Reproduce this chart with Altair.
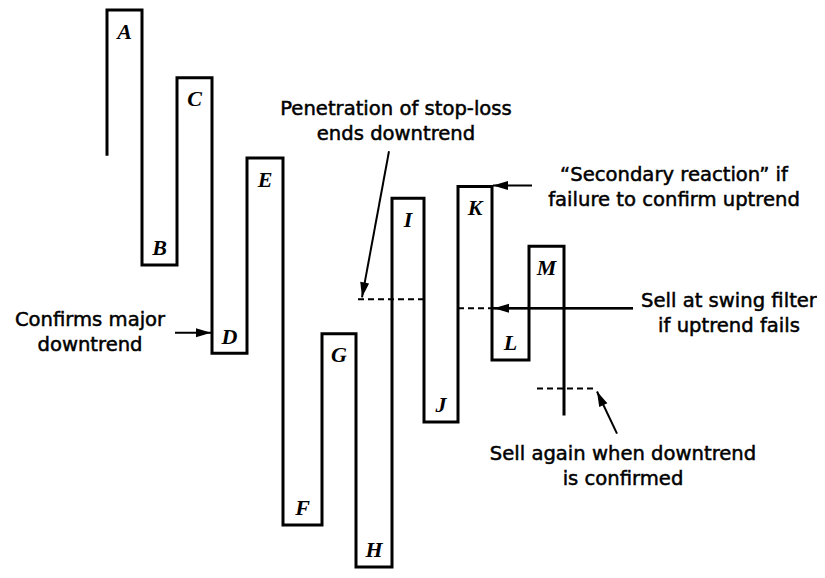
import altair as alt
import pandas as pd
import numpy as np

# ---- swing chart data (time of each reversal stroke, price at each swing) ----
swing_labels = ["A", "B", "C", "D", "E", "F", "G", "H", "I", "J", "K", "L", "M"]
stroke_times = [107, 142, 177, 212, 247, 283, 322, 356, 392, 424, 458, 492, 529, 564]
start_price = 445
swing_prices = [592, 332, 523, 242, 441, 67, 262, 24, 400, 172, 412, 235, 351]
end_price = 180

# ---- reference levels (dashed) ----
level_names = ["stop-loss", "swing filter", "confirmation"]
level_prices = [297, 288, 206]
level_from = [358, 458, 537]
level_to = [424, 492, 597]

# solid filter line
filter_solid_from = 492
filter_solid_to = 633

# ---- arrows: start (time, price) -> tip (time, price) ----
arrow_t0 = [175, 532, 633, 389, 617]
arrow_p0 = [263, 413, 288, 448, 160]
arrow_t1 = [211, 493, 494, 362, 597]
arrow_p1 = [263, 413, 288, 299, 203]

# ---- annotation texts ----
note_texts = [
    "Penetration of stop-loss\nends downtrend",
    "\u201cSecondary reaction\u201d if\nfailure to confirm uptrend",
    "Confirms major\ndowntrend",
    "Sell at swing filter\nif uptrend fails",
    "Sell again when downtrend\nis confirmed",
]
note_t = [396, 674, 90, 729, 623]
note_p = [485, 418, 270, 289, 133]

# ---------------- build tables ----------------
levels = [start_price] + swing_prices + [end_price]
rows = []
k = 0
for i, t in enumerate(stroke_times):
    rows.append({"t": t, "p": levels[i], "o": k}); k += 1
    rows.append({"t": t, "p": levels[i + 1], "o": k}); k += 1
path_df = pd.DataFrame(rows)

lab_rows = []
for i, name in enumerate(swing_labels):
    prev = levels[i]
    cur = levels[i + 1]
    mid_t = (stroke_times[i] + stroke_times[i + 1]) / 2
    peak = cur > prev
    lab_rows.append({"label": name, "t": mid_t, "p": cur - 22 if peak else cur + 17})
lab_df = pd.DataFrame(lab_rows)

dash_df = pd.DataFrame({"name": level_names, "p": level_prices, "t0": level_from, "t1": level_to})
solid_df = pd.DataFrame({"p": [level_prices[1]], "t0": [filter_solid_from], "t1": [filter_solid_to]})

arr_df = pd.DataFrame({"t0": arrow_t0, "p0": arrow_p0, "t1": arrow_t1, "p1": arrow_p1})
arr_df["angle"] = (np.degrees(np.arctan2(arr_df["t1"] - arr_df["t0"], arr_df["p1"] - arr_df["p0"])) + 360) % 360

note_df = pd.DataFrame({"text": note_texts, "t": note_t, "p": note_p})

xs = alt.Scale(domain=[8, 817], nice=False, zero=False)
ys = alt.Scale(domain=[21, 594], nice=False, zero=False)

def X(f):
    return alt.X(f, type="quantitative", scale=xs, axis=None)

def Y(f):
    return alt.Y(f, type="quantitative", scale=ys, axis=None)

swing = alt.Chart(path_df).mark_line(color="black", strokeWidth=3, strokeJoin="miter", strokeCap="square").encode(
    x=X("t"), y=Y("p"), order="o:Q"
)

letters = alt.Chart(lab_df).mark_text(
    font="Liberation Serif", fontStyle="italic", fontWeight="bold", fontSize=22,
    align="center", baseline="middle", color="black"
).encode(x=X("t"), y=Y("p"), text="label:N")

dashes = alt.Chart(dash_df).mark_rule(color="black", strokeWidth=2, strokeDash=[6, 4]).encode(
    x=X("t0"), x2="t1", y=Y("p")
)

solid = alt.Chart(solid_df).mark_rule(color="black", strokeWidth=2.5).encode(
    x=X("t0"), x2="t1", y=Y("p")
)

shafts = alt.Chart(arr_df).mark_rule(color="black", strokeWidth=2).encode(
    x=X("t0"), x2="t1", y=Y("p0"), y2="p1"
)

heads = alt.Chart(arr_df).mark_point(
    shape="M0,0 L0.3,1 L-0.3,1 Z", filled=True, color="black", size=900, opacity=1
).encode(x=X("t1"), y=Y("p1"), angle=alt.Angle("angle:Q", scale=None))

notes = alt.Chart(note_df).mark_text(
    font="DejaVu Sans", fontSize=19.6, align="center", baseline="alphabetic",
    lineBreak="\n", lineHeight=25, color="black", stroke="black", strokeWidth=0.5
).encode(x=X("t"), y=Y("p"), text="text:N")

chart = alt.layer(swing, dashes, solid, shafts, heads, letters, notes).properties(
    width=809, height=562, autosize=alt.AutoSizeParams(type="none"), padding=0,
    background="white"
).configure_view(stroke=None)

chart.save("out.html", embed_options={"renderer": "svg", "actions": False})
